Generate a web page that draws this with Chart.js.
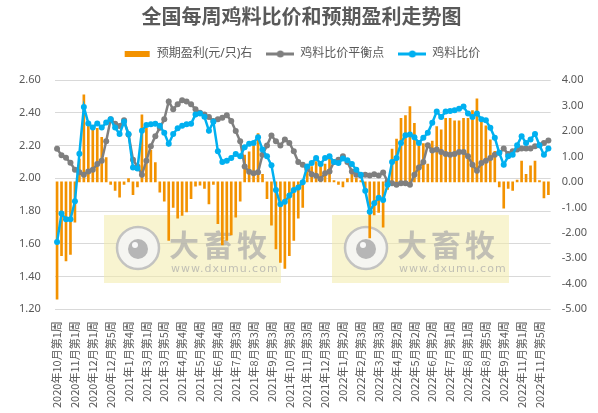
<!DOCTYPE html>
<html>
<head>
<meta charset="utf-8">
<script src="https://cdn.jsdelivr.net/npm/chart.js@4"></script>
<style>
  body { margin: 0; background: #fff; }
  #wrap { width: 598px; height: 413px; }
</style>
</head>
<body>
<div id="wrap"><canvas id="myChart"></canvas></div>
<script>
const weeks = [
  "2020年10月第1周", "2020年10月第2周", "2020年10月第3周", "2020年10月第4周",
  "2020年11月第1周", "2020年11月第2周", "2020年11月第3周", "2020年11月第4周",
  "2020年12月第1周", "2020年12月第2周", "2020年12月第3周", "2020年12月第4周",
  "2020年12月第5周", "2021年1月第1周", "2021年1月第2周", "2021年1月第3周",
  "2021年1月第4周", "2021年2月第1周", "2021年2月第2周", "2021年2月第4周",
  "2021年3月第1周", "2021年3月第2周", "2021年3月第3周", "2021年3月第4周",
  "2021年3月第5周", "2021年4月第1周", "2021年4月第2周", "2021年4月第3周",
  "2021年4月第4周", "2021年5月第1周", "2021年5月第2周", "2021年5月第3周",
  "2021年5月第4周", "2021年6月第1周", "2021年6月第2周", "2021年6月第3周",
  "2021年6月第4周", "2021年6月第5周", "2021年7月第1周", "2021年7月第2周",
  "2021年7月第3周", "2021年7月第4周", "2021年8月第1周", "2021年8月第2周",
  "2021年8月第3周", "2021年8月第4周", "2021年9月第1周", "2021年9月第2周",
  "2021年9月第3周", "2021年9月第4周", "2021年10月第1周", "2021年10月第2周",
  "2021年10月第3周", "2021年10月第4周", "2021年11月第1周", "2021年11月第2周",
  "2021年11月第3周", "2021年11月第4周", "2021年12月第1周", "2021年12月第2周",
  "2021年12月第3周", "2021年12月第4周", "2021年12月第5周", "2022年1月第1周",
  "2022年1月第2周", "2022年1月第3周", "2022年1月第4周", "2022年2月第2周",
  "2022年2月第3周", "2022年2月第4周", "2022年3月第1周", "2022年3月第2周",
  "2022年3月第3周", "2022年3月第4周", "2022年3月第5周", "2022年4月第1周",
  "2022年4月第2周", "2022年4月第3周", "2022年4月第4周", "2022年5月第1周",
  "2022年5月第2周", "2022年5月第3周", "2022年5月第4周", "2022年6月第1周",
  "2022年6月第2周", "2022年6月第3周", "2022年6月第4周", "2022年6月第5周",
  "2022年7月第1周", "2022年7月第2周", "2022年7月第3周", "2022年7月第4周",
  "2022年8月第1周", "2022年8月第2周", "2022年8月第3周", "2022年8月第4周",
  "2022年8月第5周", "2022年9月第1周", "2022年9月第2周", "2022年9月第3周",
  "2022年9月第4周", "2022年10月第2周", "2022年10月第3周", "2022年10月第4周",
  "2022年11月第1周", "2022年11月第2周", "2022年11月第3周", "2022年11月第4周",
  "2022年11月第5周", "2022年12月第1周", "2022年12月第2周"
];

// 预期盈利 (元/只), right axis
const profit = [
  -4.6, -2.9, -3.1, -2.85, -1.58, 0.9, 3.42, 2.3, 2.1, 2.1,
  1.75, 0.95, -0.1, -0.33, -0.6, -0.1, 0.13, -0.5, -0.2, 2.63,
  2.1, 1.25, 0.76, -0.4, -0.76, -2.3, -1.0, -1.42, -1.32, -1.18,
  -0.66, -0.17, -0.13, -0.26, -0.86, -0.1, -1.64, -2.47, -2.3, -2.08,
  -1.38, -0.76, 1.05, 1.18, 1.5, 1.9, 0.3, -0.66, -1.7, -2.63,
  -3.16, -3.4, -2.9, -2.3, -1.42, -1.0, 0.4, 0.6, 0.8, 0.7,
  0.7, 0.95, 0.05, -0.1, -0.2, 0.13, 0.3, 0.15, 0.05, -0.33,
  -2.2, -1.3, -1.2, -1.78, -0.3, 1.29, 1.68, 2.5, 2.6, 2.96,
  2.3, 1.5, 1.5, 0.7, 1.6, 2.17, 2.04, 2.5, 2.5, 2.4,
  2.4, 2.5, 2.5, 2.8, 3.26, 2.4, 2.2, 1.65, 1.2, -0.2,
  -1.03, -0.26, -0.33, 0.07, 0.82, 0.3, 0.63, 0.82, 0.05, -0.63,
  -0.5
];

// 鸡料比价平衡点
const breakEven = [
  2.18, 2.14, 2.125, 2.095, 2.052, 2.037, 2.021, 2.042, 2.052, 2.087,
  2.107, 2.226, 2.36, 2.333, 2.319, 2.354, 2.267, 2.113, 2.072, 2.021,
  2.107, 2.196, 2.257, 2.308, 2.36, 2.469, 2.421, 2.452, 2.477, 2.469,
  2.452, 2.421, 2.40, 2.39, 2.374, 2.35, 2.36, 2.37, 2.385, 2.35,
  2.288, 2.226, 2.072, 2.04, 2.031, 2.037, 2.144, 2.20, 2.261, 2.226,
  2.20, 2.237, 2.216, 2.165, 2.099, 2.083, 2.058, 2.025, 2.015, 1.996,
  2.031, 2.042, 2.099, 2.113, 2.134, 2.10, 2.042, 2.021, 2.017, 2.021,
  2.017, 2.025, 2.017, 2.035, 1.98, 1.97, 1.96, 1.97, 1.97, 1.96,
  2.021, 2.066, 2.099, 2.202, 2.169, 2.175, 2.16, 2.148, 2.144, 2.148,
  2.16, 2.16, 2.134, 2.083, 2.046, 2.093, 2.107, 2.124, 2.144, 2.155,
  2.181, 2.148, 2.165, 2.175, 2.181, 2.181, 2.181, 2.196, 2.202, 2.216,
  2.23
];

// 鸡料比价
const ratio = [
  1.61, 1.785, 1.75, 1.75, 1.86, 2.15, 2.435, 2.335, 2.31, 2.335,
  2.31, 2.34, 2.36, 2.31, 2.27, 2.345, 2.27, 2.065, 2.06, 2.29,
  2.325, 2.33, 2.333, 2.32, 2.278, 2.21, 2.27, 2.305, 2.32, 2.33,
  2.333, 2.39, 2.395, 2.375, 2.29, 2.345, 2.165, 2.10, 2.107, 2.124,
  2.148, 2.134, 2.189, 2.21, 2.216, 2.251, 2.175, 2.134, 2.079, 1.929,
  1.841, 1.857, 1.894, 1.929, 1.943, 1.976, 2.072, 2.093, 2.124, 2.087,
  2.124, 2.134, 2.099, 2.093, 2.12, 2.11, 2.087, 2.052, 2.021, 1.923,
  1.795, 1.847, 1.881, 1.867, 1.96, 2.099, 2.124, 2.216, 2.263, 2.267,
  2.251, 2.216, 2.247, 2.278, 2.339, 2.407, 2.374, 2.407, 2.411, 2.415,
  2.425, 2.438, 2.395, 2.374, 2.395, 2.36, 2.354, 2.308, 2.247, 2.155,
  2.083, 2.134, 2.144, 2.202, 2.257, 2.216, 2.237, 2.271, 2.202, 2.144,
  2.181
];

const FONT = "'Noto Sans', 'Noto Sans CJK SC', sans-serif";
const CJK = "'Noto Sans CJK SC', sans-serif";
const TEXT = "#595959";
const ORANGE = "#F39200";
const GREY = "#7F7F7F";
const BLUE = "#00B0F0";

// little canvases used as legend symbols
function legendIcon(kind, color) {
  const c = document.createElement("canvas");
  c.width = 28;
  c.height = 8;
  const g = c.getContext("2d");
  if (kind == "bar") {
    g.fillStyle = color;
    g.fillRect(2, 1, 25, 6);
  } else {
    g.strokeStyle = color;
    g.lineWidth = 3;
    g.beginPath();
    g.moveTo(0, 4);
    g.lineTo(28, 4);
    g.stroke();
    g.fillStyle = color;
    g.beginPath();
    g.arc(14, 4, 3.5, 0, Math.PI * 2);
    g.fill();
  }
  return c;
}

// faint site logo boxes behind the data
const watermark = {
  id: "watermark",
  beforeDatasetsDraw(chart) {
    const g = chart.ctx;
    const boxes = [104, 332];
    g.save();
    boxes.forEach((left) => {
      g.fillStyle = "rgba(243, 235, 170, 0.55)";
      g.fillRect(left, 215, 177, 68);
      // round icon
      g.beginPath();
      g.arc(left + 34, 248, 21, 0, Math.PI * 2);
      g.fillStyle = "rgba(245, 245, 245, 0.9)";
      g.fill();
      g.lineWidth = 2.5;
      g.strokeStyle = "rgba(190, 190, 190, 0.9)";
      g.stroke();
      g.beginPath();
      g.arc(left + 34, 249, 10, 0, Math.PI * 2);
      g.fillStyle = "rgba(175, 175, 175, 0.9)";
      g.fill();
      g.beginPath();
      g.arc(left + 31, 245, 3, 0, Math.PI * 2);
      g.fillStyle = "rgba(255, 255, 255, 0.9)";
      g.fill();
      // name
      g.fillStyle = "rgba(170, 170, 170, 0.7)";
      g.textBaseline = "middle";
      g.textAlign = "left";
      g.font = "bold 30px 'Noto Sans CJK SC', sans-serif";
      g.letterSpacing = "4px";
      g.fillText("大畜牧", left + 65, 245);
      g.font = "11px 'DejaVu Sans', sans-serif";
      g.letterSpacing = "1px";
      g.fillText("www.dxumu.com", left + 67, 269);
    });
    g.restore();
  },
};

// extra space under the legend
const legendGap = {
  id: "legendGap",
  beforeInit(chart) {
    const fit = chart.legend.fit;
    chart.legend.fit = function () {
      fit.bind(chart.legend)();
      this.height += 10;
    };
  },
};

const ctx = document.getElementById("myChart");
const myChart = new Chart(ctx, {
  data: {
    labels: weeks,
    datasets: [
      {
        type: "bar",
        label: "预期盈利(元/只)右",
        data: profit,
        backgroundColor: ORANGE,
        barThickness: 2,
        yAxisID: "y1",
        order: 3,
      },
      {
        type: "line",
        label: "鸡料比价平衡点",
        data: breakEven,
        borderColor: GREY,
        backgroundColor: GREY,
        borderWidth: 2.5,
        pointRadius: 3,
        pointBorderWidth: 0,
        tension: 0,
        yAxisID: "y",
        order: 2,
      },
      {
        type: "line",
        label: "鸡料比价",
        data: ratio,
        borderColor: BLUE,
        backgroundColor: BLUE,
        borderWidth: 2.5,
        pointRadius: 3,
        pointBorderWidth: 0,
        tension: 0,
        yAxisID: "y",
        order: 1,
      },
    ],
  },
  options: {
    responsive: true,
    maintainAspectRatio: false,
    animation: false,
    layout: { padding: { left: 5, right: 0, bottom: 1, top: 0 } },
    plugins: {
      title: {
        display: true,
        text: "全国每周鸡料比价和预期盈利走势图",
        color: TEXT,
        font: { size: 20, weight: "bold", family: FONT },
        padding: { top: 6, bottom: 4 },
      },
      legend: {
        position: "top",
        labels: {
          usePointStyle: true,
          pointStyleWidth: 28,
          boxHeight: 8,
          padding: 14,
          color: TEXT,
          font: { size: 12, family: FONT },
          generateLabels: (chart) =>
            chart.data.datasets.map((ds, i) => ({
              text: ds.label,
              pointStyle: legendIcon(ds.type, ds.backgroundColor),
              fillStyle: ds.backgroundColor,
              strokeStyle: ds.backgroundColor,
              lineWidth: 0,
              fontColor: TEXT,
              hidden: false,
              datasetIndex: i,
            })),
        },
      },
      tooltip: { enabled: false },
    },
    scales: {
      x: {
        grid: { display: false },
        border: { display: false },
        ticks: {
          autoSkip: false,
          minRotation: 90,
          maxRotation: 90,
          padding: 4,
          color: TEXT,
          font: { size: 11, family: CJK },
          callback: (v, i) => (i % 4 == 0 ? weeks[i] : ""),
        },
      },
      y: {
        position: "left",
        min: 1.2,
        max: 2.6,
        grid: { color: "#D9D9D9", drawTicks: false },
        border: { display: false },
        ticks: {
          stepSize: 0.2,
          padding: 14,
          color: TEXT,
          font: { size: 11, family: FONT },
          callback: (v) => v.toFixed(2),
        },
      },
      y1: {
        position: "right",
        min: -5,
        max: 4,
        grid: { display: false, drawTicks: false },
        border: { display: false },
        ticks: {
          stepSize: 1,
          padding: 11,
          color: TEXT,
          font: { size: 11, family: FONT },
          callback: (v) => v.toFixed(2),
        },
      },
    },
  },
  plugins: [watermark, legendGap],
});
</script>
</body>
</html>
